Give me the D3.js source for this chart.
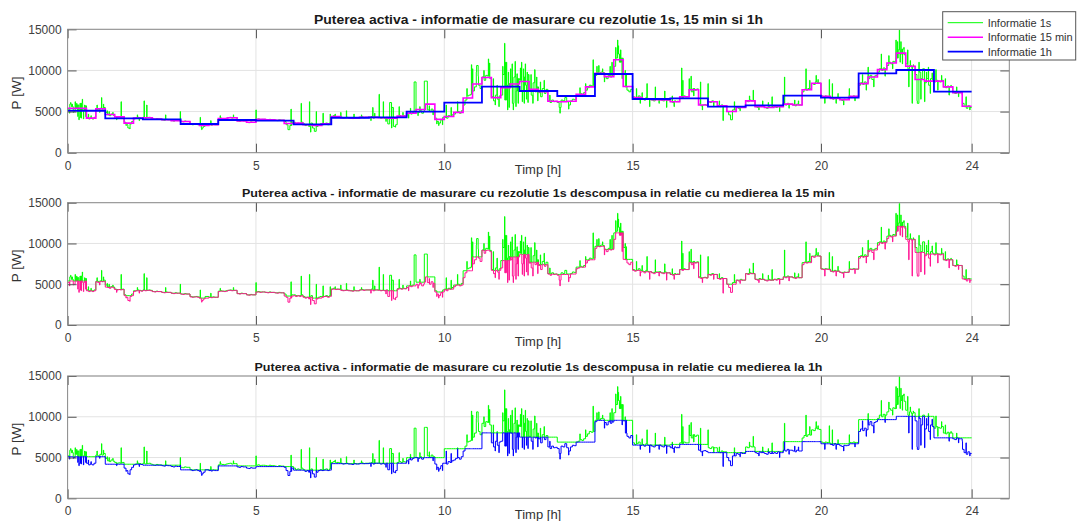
<!DOCTYPE html>
<html><head><meta charset="utf-8">
<script src="https://cdn.jsdelivr.net/npm/d3@7"></script>
<style>body{margin:0;background:#fff}svg{font-family:"Liberation Sans",Arial,sans-serif;display:block}</style>
</head><body><svg id="c" width="1078" height="521"></svg>
<script>
// ---------- data ----------
const hourlyAvg = [5100,4180,4060,3490,3975,3890,3450,4250,4300,4985,6080,8025,7500,6890,9565,6525,6610,5600,5750,6950,6690,9650,10050,7415];
const quarterAvg = [
5400,5400,4200,5350, 4650,4350,3600,4200, 4250,4100,4000,3900, 3800,3450,3300,3400,
4150,4250,3850,3700, 4050,4000,3950,3550, 3600,3400,3300,3500, 4400,4250,4200,4300,
4300,4250,4200,4450, 4800,5250,5900,4050, 4400,4900,6650,8350, 9150,6700,7900,8350,
8650,7700,7400,6250, 6200,6250,7100,8000, 9650,9250,11300,8050, 6700,6550,6450,6400,
6200,6800,7650,5800, 6200,5700,5000,5500, 6300,5600,5500,5600, 5900,5800,7650,8450,
6850,6600,6450,6850, 8400,9200,10100,10900, 12100,10500,8900,8700, 8700,8000,7300,5650];
// 1 s signal: base level every 3 minutes
const signalBase3min = [
5200,5900,5600,5000,5400, 5800,4300,6000,5200,5700, 4300,4100,4200,4100,4300, 5300,5200,5400,5300,5500,
4900,4600,4500,4700,4550, 4400,4300,4350,4300,4400, 3700,3400,3000,3500,3800, 4100,4200,4300,4250,4150,
4300,4200,4250,4300,4200, 4100,4050,4150,4100,4100, 4000,3950,4050,4000,4000, 3900,3850,3950,3900,3900,
3800,3750,3850,3800,3800, 3500,3400,3450,3500,3400, 3300,3000,3200,3500,3500, 3400,3350,3450,3400,3400,
4100,4200,4150,4100,4200, 4250,4300,4200,4250,4250, 3850,3800,3900,3850,3850, 3700,3650,3750,3700,3700,
4050,4100,4000,4050,4050, 4000,3950,4050,4000,4000, 3950,3900,4000,3950,3950, 3800,3400,2800,3300,3700,
3700,3500,3600,3500,3700, 3500,3300,3400,3200,3600, 3000,2600,3200,3400,3500, 3400,3500,3600,3400,3600,
4400,4500,4350,4400,4350, 4300,4200,4250,4300,4200, 4200,4150,4250,4200,4200, 4300,4350,4250,4300,4300,
4300,4400,4200,4300,4300, 4300,4200,4250,4200,4300, 3500,6100,5500,3200,3400, 4400,4500,4400,4500,4450,
4600,4800,4700,4900,4800, 5000,4900,5100,4800,5000, 8700,5200,5000,5300,5100, 4200,3800,3600,4000,4300,
4300,4200,4500,4400,4600, 4700,4900,5000,4800,5100, 5800,6400,6900,7000,7100, 7500,8000,10600,8200,7800,
9200,8800,9400,9300,9000, 6800,6300,7000,6500,6900, 7000,9500,6400,8200,8400, 8000,6000,9200,7500,9000,
8800,7500,9200,8200,9500, 7600,7000,8500,7400,8000, 7300,6800,7800,7200,7700, 6300,6100,6400,6200,6250,
6100,5500,6400,6300,6700, 6200,5800,6300,6500,6450, 6900,7000,7200,7100,7300, 7600,7900,8200,8100,8200,
9400,9700,9600,9800,9750, 9300,9000,9400,9200,9350, 10500,11500,12000,11000,11500, 9500,8000,7600,7400,7700,
6800,6600,6700,6900,6500, 6600,6400,6700,6500,6550, 6400,6300,6500,6500,6550, 6400,6300,6500,6400,6400,
6200,6100,6300,6200,6200, 6800,6700,6900,6800,6800, 7700,7400,7800,7600,7750, 5900,5700,5800,5850,5750,
6200,6100,6300,6200,6200, 5700,5600,5800,5700,5700, 5000,4600,4000,5200,5200, 5500,5400,5600,5500,5500,
6300,6200,6400,6300,6300, 5600,5500,5700,5600,5600, 5500,5400,5600,5500,5500, 5600,5500,5700,5600,5600,
5900,5800,6000,5900,5900, 5800,5700,5900,5800,5800, 7400,7700,7600,7800,7750, 8400,8300,8600,8500,8450,
6900,6800,6900,6850,6800, 6600,6500,6700,6600,6600, 6450,6350,6500,6450,6500, 6850,6800,6900,6850,6850,
8200,8500,8300,8600,8400, 9000,9400,8900,9300,9400, 9800,10200,10000,10300,10200, 10600,11000,10800,11100,11000,
11500,12500,12000,12600,11900, 10800,10200,10600,10400,10500, 9500,6000,9800,9000,10200, 8500,9000,8200,9000,8800,
8600,8800,8700,8600,8800, 8000,7900,8100,8000,8000, 7300,7200,7400,7300,7300, 6000,5600,5400,5700,5500];
// short pulses of the 1 s signal: [hour, W, duration h (optional)]
const signalPulses = [
[0.05,4800],[0.08,6100],[0.12,5900],[0.15,4900],[0.2,6200],[0.24,6000],[0.27,4400],[0.3,4000],[0.33,6000],
[0.36,4200],[0.39,6500],[0.42,4100],[0.45,5800],[0.48,4400],[0.55,4700],[0.62,4500],[0.78,5800],[0.85,4900],
[0.9,6700],[0.95,5900],
[1.05,5100],[1.1,5000],[1.2,4900],[1.3,4000],[1.42,6200],[1.55,3300],[1.65,2900],[1.85,4600],[1.9,3900],
[2.03,6300],[2.1,5800],[2.6,4600],
[2.99,5000],[3.52,4300],[3.56,2800],[3.8,3900],[4.05,4500],[4.4,4600],[5.0,5200],[5.93,5300],
[6.2,6000],[6.42,6200],[6.45,2500],[6.6,5000],[6.78,4800],[6.97,4700],
[7.1,4700],[7.25,4900],[7.4,5100],[7.6,4700],[7.8,4600],
[8.05,3900],[8.1,5500],[8.15,4800],[8.27,7100],[8.38,6200],[8.45,3800],[8.6,3000],[8.7,3100],[8.8,5600],[8.9,4900],
[9.05,4200],[9.1,5400],[9.2,8600,0.05],[9.3,4500],[9.35,5600],[9.47,8700,0.03],[9.6,5700],[9.7,4600],
[9.8,3500],[9.85,3300],[9.9,3800],[9.95,3400],
[10.05,5800],[10.18,5500],[10.35,6200],[10.6,7800],[10.72,10700],[10.75,10200],[10.85,9800],[10.9,9300],
[11.05,10000],[11.17,11400],[11.2,10900],[11.3,9000],[11.35,5800],[11.4,8200],[11.45,5600],[11.55,10500],
[11.6,13300],[11.62,11000],[11.65,11000],[11.68,5200],[11.7,9800],[11.72,5500],[11.76,10200],[11.8,10800],
[11.83,5200],[11.88,11100],[11.9,5600],[11.93,9600],[11.96,6000],
[12.02,10300],[12.05,11000],[12.07,6200],[12.1,10200],[12.12,6000],[12.15,10800],[12.18,6500],[12.2,9800],
[12.22,6100],[12.3,9500],[12.35,6000],[12.4,10100],[12.45,9200],[12.48,6300],[12.55,8600],[12.65,8800],[12.8,7000],
[13.07,4800],[13.3,5300],[13.6,7900],[13.75,8400],[13.95,11300],
[14.05,10500],[14.1,10600],[14.2,10200],[14.25,8600],[14.4,10500],[14.45,11000],[14.55,12800],[14.6,13700],
[14.62,13000],[14.66,11800],[14.68,12500],[14.72,9000],[14.8,10000],[14.83,9600],
[15.1,7800],[15.2,6000],[15.25,7300],[15.38,8400],[15.45,5600],[15.6,8000],[15.7,6000],[15.85,7500],[15.9,5500],
[16.05,6900],[16.1,5600],[16.2,6300],[16.3,10300],[16.33,8800],[16.5,9000],[16.55,9300],[16.62,6900],[16.8,8600],[16.85,5200],
[17.0,8400],[17.15,5600],[17.3,6300],[17.4,3900],[17.7,6200],[17.85,5100],
[18.1,6900],[18.2,7600],[18.35,5200],[18.45,6300],[18.6,6100],[18.7,6800],[18.9,5000],
[19.03,9200],[19.15,5400],[19.3,6400],[19.4,6300],[19.6,10200],[19.7,8800],[19.87,9400],[19.92,8900],
[20.1,6000],[20.22,8900],[20.3,8400],[20.4,6000],[20.45,7200],[20.6,5800],[20.75,7800],[20.9,6300],
[21.1,9500],[21.2,7600],[21.25,10400],[21.4,8000],[21.6,12000],[21.7,9300],[21.8,11800],[21.9,10200],[21.99,13700],
[22.03,13500],[22.08,14900],[22.1,11000],[22.12,13500],[22.16,10800],[22.2,12800],[22.3,12500],[22.33,8000],
[22.37,11200],[22.42,6000],[22.45,10700],[22.55,6300],[22.6,11000],[22.65,6500],[22.7,10200],[22.75,6200],
[22.8,9800],[22.85,10400],[22.9,7200],[22.95,9700],
[23.05,10100],[23.1,7600],[23.2,9400],[23.3,9000],[23.4,7000],[23.45,8200],[23.6,8000],[23.65,6800],
[23.75,7000],[23.85,6800],[23.95,5200]];
const xTickValues = [0,5,10,15,20,24];
const yTickValues = [0,5000,10000,15000];
const panelTitles = [
 "Puterea activa - informatie de masurare cu rezolutie 1s, 15 min si 1h",
 "Puterea activa - informatie de masurare cu rezolutie 1s descompusa in relatie cu medierea la 15 min",
 "Puterea activa - informatie de masurare cu rezolutie 1s descompusa in relatie cu medierea la 1h"];
const legendLabels = ["Informatie 1s","Informatie 15 min","Informatie 1h"];
const xLabel = "Timp [h]", yLabel = "P [W]";

// ---------- layout ----------
const svg = d3.select("#c");
const x = d3.scaleLinear([0,25],[67.6,1009.3]);
const panels = [
 {top:29.3,bottom:152.7,tSize:12,tW:449},
 {top:202.7,bottom:325,tSize:11,tW:593},
 {top:376,bottom:498.3,tSize:11,tW:568}];
const GREEN="#00ff00", MAG="#ff00ff", PINK="#ff1493", BLUE="#0000ff";

// ---------- derived series ----------
const pulseDur = p => p[2] || 0.008;
function sigAt(t){
  for(const p of signalPulses){ if(t>=p[0]-1e-9 && t<p[0]+pulseDur(p)-1e-9) return p[1]; }
  return signalBase3min[Math.min(479,Math.floor(t*20+1e-9))];
}
let times = d3.range(0,481).map(i=>i/20);
signalPulses.forEach(p=>{times.push(p[0]);times.push(p[0]+pulseDur(p));});
times = Array.from(new Set(times.map(t=>+t.toFixed(6)))).sort((a,b)=>a-b).filter(t=>t<=24);
const sig = times.map(t=>[t, t>=24? signalBase3min[479] : sigAt(t)]);
const qAt = t => quarterAvg[Math.min(95,Math.floor(t*4+1e-9))];
const hAt = t => hourlyAvg[Math.min(23,Math.floor(t+1e-9))];
const qSteps = quarterAvg.map((v,i)=>[i/4,v]).concat([[24,quarterAvg[95]]]);
const hSteps = hourlyAvg.map((v,i)=>[i,v]).concat([[24,hourlyAvg[23]]]);

svg.append("defs").selectAll("clipPath").data(panels).join("clipPath")
 .attr("id",(d,i)=>"cl"+i).append("rect")
 .attr("x",x(0)).attr("width",x(25)-x(0)).attr("y",d=>d.top).attr("height",d=>d.bottom-d.top);

panels.forEach((P,pi)=>{
  const y = d3.scaleLinear([0,15000],[P.bottom,P.top]);
  const g = svg.append("g");
  // grid
  g.selectAll(".gx").data(xTickValues).join("line").attr("x1",d=>x(d)).attr("x2",d=>x(d))
    .attr("y1",P.top).attr("y2",P.bottom).attr("stroke","#e3e3e3").attr("stroke-width",1);
  g.selectAll(".gy").data(yTickValues).join("line").attr("y1",d=>y(d)).attr("y2",d=>y(d))
    .attr("x1",x(0)).attr("x2",x(25)).attr("stroke","#e3e3e3").attr("stroke-width",1);
  // data
  const line = d3.line().x(d=>x(d[0])).y(d=>y(d[1])).curve(d3.curveStepAfter);
  const dg = g.append("g").attr("clip-path",`url(#cl${pi})`);
  const draw=(data,col,w)=>dg.append("path").datum(data).attr("d",line).attr("fill","none")
    .attr("stroke",col).attr("stroke-width",w).attr("stroke-linejoin","miter");
  if(pi===0){
    draw(sig,GREEN,1); draw(qSteps,MAG,1.6); draw(hSteps,BLUE,1.8);
  } else if(pi===1){
    draw(sig.map(([t,v])=>[t,Math.max(v,qAt(t))]),GREEN,1);
    draw(sig.map(([t,v])=>[t,Math.min(v,qAt(t))]),PINK,1);
  } else {
    draw(sig.map(([t,v])=>[t,Math.max(v,hAt(t))]),GREEN,1);
    draw(sig.map(([t,v])=>[t,Math.min(v,hAt(t))]),BLUE,1);
  }
  // axes
  const ax = (a,tr)=>{const s=g.append("g").attr("transform",tr).call(a);
    s.select(".domain").remove(); s.selectAll(".tick line").attr("stroke","#555");
    s.selectAll("text").attr("fill","#404040").style("font-size","12px").style("font-family","Liberation Sans, Arial, sans-serif"); return s;};
  ax(d3.axisBottom(x).tickValues(xTickValues).tickSize(-9).tickPadding(8.3).tickFormat(d3.format("d")),`translate(0,${P.bottom})`);
  ax(d3.axisTop(x).tickValues(xTickValues).tickSize(-9).tickFormat(""),`translate(0,${P.top})`);
  ax(d3.axisLeft(y).tickValues(yTickValues).tickSize(-9).tickPadding(6).tickFormat(d3.format("d")),`translate(${x(0)},0)`);
  ax(d3.axisRight(y).tickValues(yTickValues).tickSize(-9).tickFormat(""),`translate(${x(25)},0)`);
  g.append("rect").attr("x",x(0)).attr("y",P.top).attr("width",x(25)-x(0)).attr("height",P.bottom-P.top)
    .attr("fill","none").attr("stroke","#8a8a8a").attr("stroke-width",1);
  // texts
  g.append("text").attr("x",538.5).attr("y",P.top-5.5).attr("text-anchor","middle")
    .attr("font-weight","bold").attr("font-size",P.tSize).attr("fill","#1a1a1a")
    .attr("textLength",P.tW).attr("lengthAdjust","spacingAndGlyphs").text(panelTitles[pi]);
  g.append("text").attr("x",538).attr("y",P.bottom+21).attr("text-anchor","middle")
    .attr("font-size",13).attr("fill","#333").text(xLabel);
  g.append("text").attr("transform",`translate(21,${(P.top+P.bottom)/2+2}) rotate(-90)`)
    .attr("text-anchor","middle").attr("font-size",13.5).attr("fill","#333").text(yLabel);
});

// legend
const lg = svg.append("g");
lg.append("rect").attr("x",942.7).attr("y",11.7).attr("width",133).attr("height",48.3)
  .attr("fill","#fff").attr("stroke","#555").attr("stroke-width",1);
const legCols=[GREEN,MAG,BLUE], legW=[1,1.6,1.8];
legendLabels.forEach((l,i)=>{
  const yy = 22.7 + i*14.5;
  lg.append("line").attr("x1",947.7).attr("x2",983).attr("y1",yy).attr("y2",yy)
    .attr("stroke",legCols[i]).attr("stroke-width",legW[i]);
  lg.append("text").attr("x",987.7).attr("y",yy+3.8).attr("font-size",11).attr("fill","#333").text(l);
});
</script></body></html>
